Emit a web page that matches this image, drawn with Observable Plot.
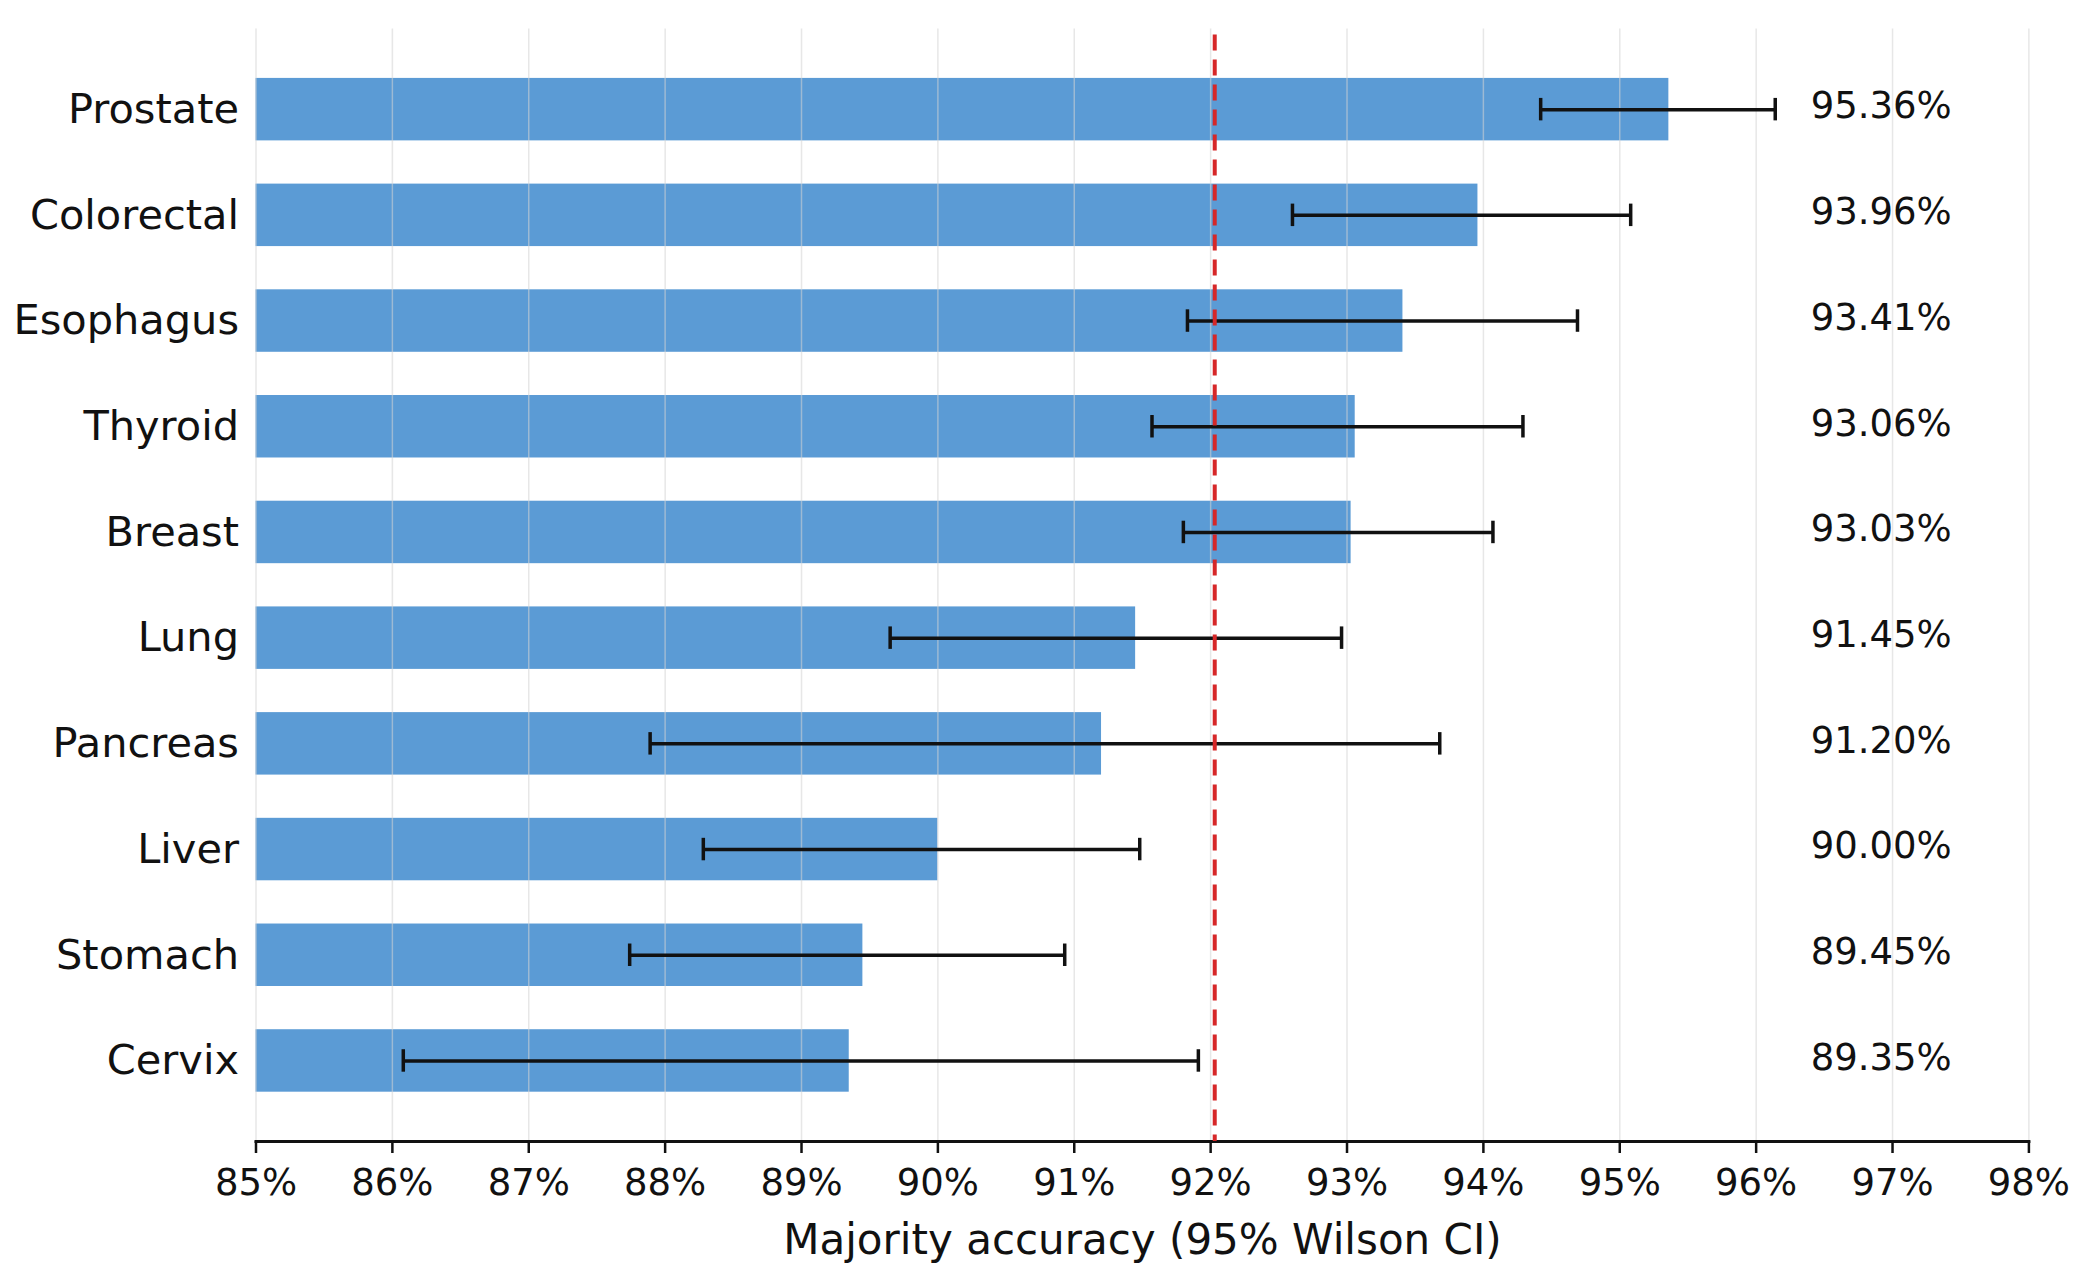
<!DOCTYPE html>
<html>
<head>
<meta charset="utf-8">
<script src="https://cdn.jsdelivr.net/npm/d3@7"></script>
<script src="https://cdn.jsdelivr.net/npm/@observablehq/plot@0.6"></script>
<style>
  html, body { margin: 0; padding: 0; background: #ffffff; }
  #chart svg { display: block; }
</style>
</head>
<body>
<div id="chart"></div>
<script>
// Per-organ majority accuracy (%) with 95% Wilson confidence bounds
const organs   = ["Prostate", "Colorectal", "Esophagus", "Thyroid", "Breast", "Lung", "Pancreas", "Liver", "Stomach", "Cervix"];
const accuracy = [95.36, 93.96, 93.41, 93.06, 93.03, 91.45, 91.20, 90.00, 89.45, 89.35];
const ciLow    = [94.42, 92.60, 91.83, 91.57, 91.80, 89.65, 87.89, 88.28, 87.74, 86.08];
const ciHigh   = [96.14, 95.08, 94.69, 94.29, 94.07, 92.96, 93.68, 91.48, 90.93, 91.91];
const overallAccuracy = 92.03;
const xTicks = [85, 86, 87, 88, 89, 90, 91, 92, 93, 94, 95, 96, 97, 98];
const axisTitle = "Majority accuracy (95% Wilson CI)";

const rows = organs.map((organ, i) => ({
  organ,
  acc: accuracy[i],
  lo: ciLow[i],
  hi: ciHigh[i]
}));

const xStart = xTicks[0];
const labelColumn = 96.4; // x position of the value labels column

const chart = Plot.plot({
  width: 2086,
  height: 1278,
  marginLeft: 255.5,
  marginRight: 57.6,
  marginTop: 28.6,
  marginBottom: 137,
  style: { fontFamily: "DejaVu Sans", background: "#ffffff", color: "#111111" },
  x: { domain: [xTicks[0], xTicks[xTicks.length - 1]] },
  y: { domain: organs, paddingInner: 0.409, paddingOuter: 0.4665, round: false },
  marks: [
    Plot.barX(rows, { y: "organ", x1: () => xStart, x2: "acc", fill: "#5b9bd5" }),
    Plot.gridX(xTicks, { stroke: "#d4d4d4", strokeOpacity: 0.55, strokeWidth: 1.5 }),
    Plot.frame({ anchor: "bottom", stroke: "#111111", strokeWidth: 3 }),
    Plot.axisX(xTicks, {
      tickFormat: d => d + "%",
      tickSize: 12,
      tickPadding: 15,
      strokeWidth: 2.5,
      fontSize: 37,
      label: null
    }),
    Plot.axisY({ tickSize: 0, tickPadding: 17, fontSize: 41.5, label: null }),
    // Wilson CI error bars
    Plot.ruleY(rows, { y: "organ", x1: "lo", x2: "hi", stroke: "#111111", strokeWidth: 3.5 }),
    Plot.tickX(rows, { x: "lo", y: "organ", stroke: "#111111", strokeWidth: 3.5, insetTop: 20, insetBottom: 20 }),
    Plot.tickX(rows, { x: "hi", y: "organ", stroke: "#111111", strokeWidth: 3.5, insetTop: 20, insetBottom: 20 }),
    // value labels
    Plot.text(rows, {
      y: "organ",
      x: () => labelColumn,
      text: d => d.acc.toFixed(2) + "%",
      textAnchor: "start",
      fontSize: 37,
      dy: -3,
      fill: "#111111"
    }),
    // overall accuracy reference line
    Plot.ruleX([overallAccuracy], { stroke: "#d62728", strokeWidth: 4, strokeDasharray: "16,9", insetTop: 6 }),
    // x-axis title
    Plot.text([axisTitle], {
      text: d => d,
      frameAnchor: "bottom",
      lineAnchor: "bottom",
      dy: 112,
      fontSize: 42,
      fill: "#111111"
    })
  ]
});

document.getElementById("chart").appendChild(chart);
</script>
</body>
</html>
